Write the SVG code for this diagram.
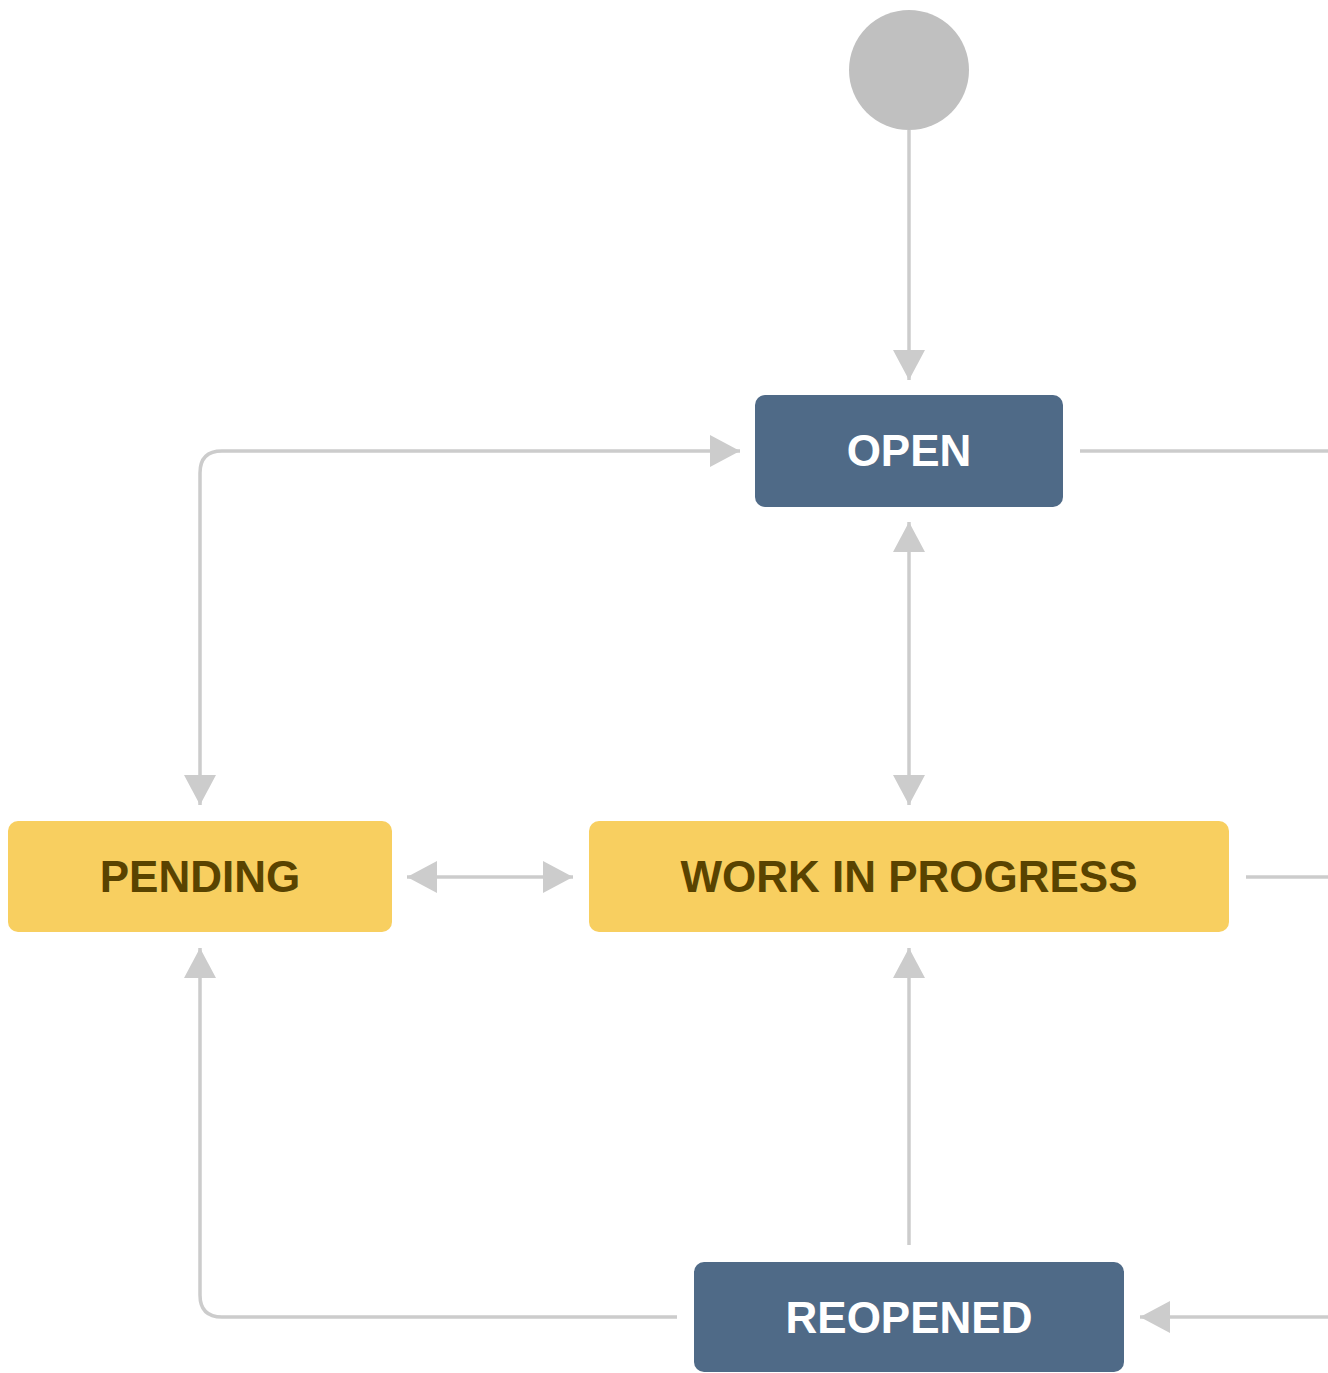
<svg xmlns="http://www.w3.org/2000/svg" width="1328" height="1373" viewBox="0 0 1328 1373">
<style>
.conn{fill:none;stroke:#cccccc;stroke-width:3.5}
.blue{fill:#4f6a87}
.yellow{fill:#f8cf60}
.lbl{font-family:"Liberation Sans",Arial,sans-serif;font-weight:bold;font-size:44px;text-anchor:middle}
.lw{fill:#ffffff}
.ld{fill:#594300}
</style>
<defs>
<marker id="ah" viewBox="0 0 30 32" refX="30" refY="16" markerWidth="30" markerHeight="32" markerUnits="userSpaceOnUse" orient="auto-start-reverse">
<path d="M0,0 L30,16 L0,32 Z" fill="#cccccc"/>
</marker>
</defs>
<rect width="1328" height="1373" fill="#ffffff"/>
<g id="connectors">
<path class="conn" d="M909,130 L909,380" marker-end="url(#ah)"/>
<path class="conn" d="M1080,451 L1328,451"/>
<path class="conn" d="M740,451 L222,451 Q200,451 200,473 L200,805" marker-start="url(#ah)" marker-end="url(#ah)"/>
<path class="conn" d="M909,522 L909,805" marker-start="url(#ah)" marker-end="url(#ah)"/>
<path class="conn" d="M407,877 L573,877" marker-start="url(#ah)" marker-end="url(#ah)"/>
<path class="conn" d="M1246,877 L1328,877"/>
<path class="conn" d="M909,1245 L909,948" marker-end="url(#ah)"/>
<path class="conn" d="M677,1317 L222,1317 Q200,1317 200,1295 L200,948" marker-end="url(#ah)"/>
<path class="conn" d="M1328,1317 L1140,1317" marker-end="url(#ah)"/>
</g>
<g id="start"><circle cx="909" cy="70" r="60" fill="#c0c0c0"/></g>
<g id="open"><rect class="blue" x="755" y="395" width="308" height="112" rx="10"/><text class="lbl lw" x="909" y="466">OPEN</text></g>
<g id="pending"><rect class="yellow" x="8" y="821" width="384" height="111" rx="10"/><text class="lbl ld" x="200" y="892">PENDING</text></g>
<g id="wip"><rect class="yellow" x="589" y="821" width="640" height="111" rx="10"/><text class="lbl ld" x="909" y="892">WORK IN PROGRESS</text></g>
<g id="reopened"><rect class="blue" x="694" y="1262" width="430" height="110" rx="10"/><text class="lbl lw" x="909" y="1333">REOPENED</text></g>
</svg>
